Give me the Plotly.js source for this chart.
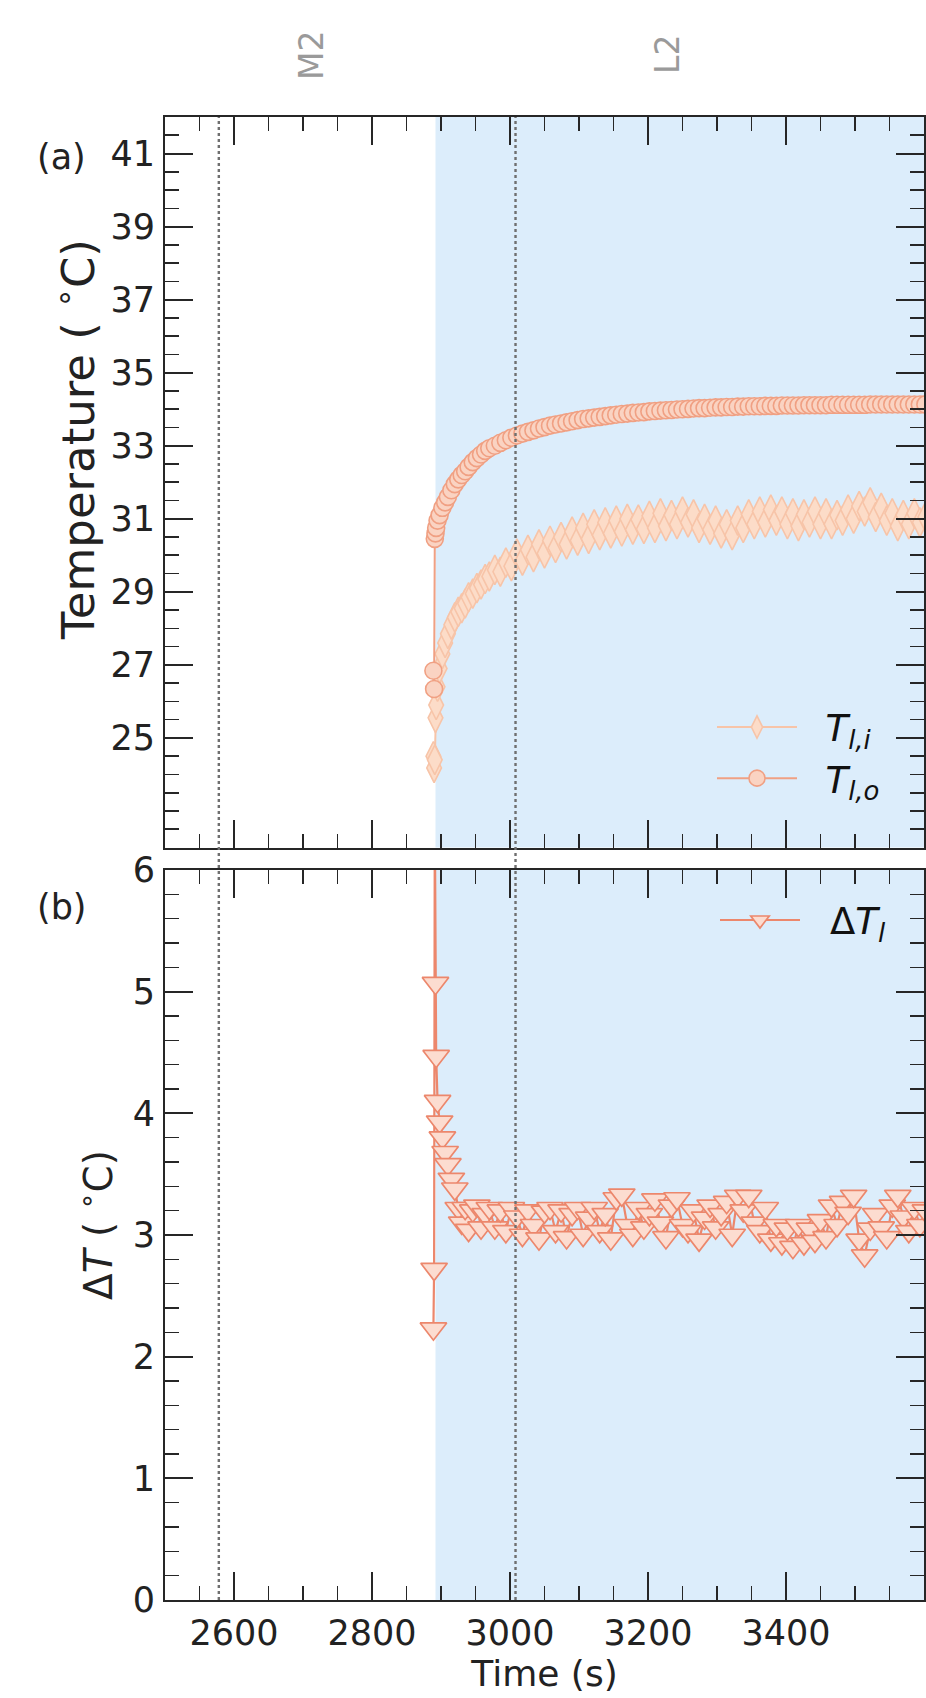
<!DOCTYPE html>
<html><head><meta charset="utf-8">
<script src="https://cdn.plot.ly/plotly-3.0.1.min.js"></script>
<style>html,body{margin:0;padding:0;background:#fff}</style>
</head><body><div id="chart" style="width:926px;height:1698px"></div>
<script>
// ---- data ----
const time = [2889, 2890, 2891, 2892, 2893, 2895, 2898, 2902, 2906, 2910,
  2915, 2920, 2925, 2930, 2935, 2940, 2946, 2952, 2958, 2964,
  2970, 2978, 2986, 2994, 3002, 3010, 3018, 3026, 3034, 3042,
  3050, 3058, 3066, 3074, 3082, 3090, 3098, 3106, 3114, 3122,
  3130, 3138, 3146, 3154, 3162, 3170, 3178, 3186, 3194, 3202,
  3210, 3218, 3226, 3234, 3242, 3250, 3258, 3266, 3274, 3282,
  3290, 3298, 3306, 3314, 3322, 3330, 3338, 3346, 3354, 3362,
  3370, 3378, 3386, 3394, 3402, 3410, 3418, 3426, 3434, 3442,
  3450, 3458, 3466, 3474, 3482, 3490, 3498, 3506, 3514, 3522,
  3530, 3538, 3546, 3554, 3562, 3570, 3578, 3586, 3594, 3602];
const T_li = [24.5, 24.18, 24.4, 25.55, 25.9, 26.4, 26.9, 27.3, 27.6, 27.85,
  28.1, 28.3, 28.45, 28.55, 28.68, 28.85, 28.95, 29.1, 29.2, 29.35,
  29.42, 29.6, 29.55, 29.8, 29.7, 30.05, 29.85, 30.15, 29.95, 30.3,
  30.05, 30.4, 30.2, 30.5, 30.3, 30.65, 30.4, 30.75, 30.45, 30.85,
  30.55, 30.9, 30.6, 30.95, 30.65, 31.0, 30.7, 30.98, 30.72, 31.08,
  30.75, 31.15, 30.8, 31.1, 30.85, 31.2, 30.9, 31.12, 30.75, 31.0,
  30.7, 30.95, 30.6, 30.85, 30.55, 30.95, 30.75, 31.12, 30.85, 31.2,
  30.9, 31.25, 30.95, 31.2, 30.85, 31.15, 30.8, 31.12, 30.9, 31.2,
  30.85, 31.15, 30.85, 31.1, 30.95, 31.25, 31.0, 31.35, 31.2, 31.45,
  31.05, 31.3, 30.95, 31.15, 30.8, 31.1, 30.85, 31.15, 30.9, 31.05];
const T_lo = [26.84, 26.34, 30.45, 30.6, 30.75, 30.95, 31.1, 31.3, 31.45, 31.6,
  31.78, 31.95, 32.08, 32.2, 32.3, 32.42, 32.55, 32.66, 32.76, 32.86,
  32.93, 33.0, 33.08, 33.15, 33.22, 33.28, 33.33, 33.38, 33.42, 33.47,
  33.51, 33.55, 33.58, 33.61, 33.64, 33.67, 33.7, 33.73, 33.75, 33.77,
  33.79, 33.81, 33.83, 33.85, 33.87, 33.88, 33.9, 33.91, 33.92, 33.94,
  33.95, 33.96, 33.97, 33.98, 33.99, 34.0, 34.01, 34.02, 34.03, 34.03,
  34.04, 34.05, 34.05, 34.06, 34.06, 34.07, 34.07, 34.08, 34.08, 34.08,
  34.09, 34.09, 34.09, 34.1, 34.1, 34.1, 34.1, 34.11, 34.11, 34.11,
  34.11, 34.11, 34.12, 34.12, 34.12, 34.12, 34.12, 34.12, 34.12, 34.13,
  34.13, 34.13, 34.13, 34.13, 34.13, 34.13, 34.13, 34.13, 34.13, 34.13];
const dT_l = [2.23, 2.72, 6.5, 5.07, 4.47, 4.1, 3.93, 3.8, 3.68, 3.58,
  3.46, 3.38, 3.22, 3.1, 3.22, 3.04, 3.2, 3.24, 3.06, 3.17,
  3.22, 3.06, 3.2, 3.03, 3.22, 3.15, 3.0, 3.2, 3.08, 2.97,
  3.19, 3.22, 3.03, 3.2, 2.98, 3.17, 3.22, 3.0, 3.14, 3.22,
  3.03, 3.17, 2.97, 3.3, 3.33, 3.08, 3.0, 3.22, 3.06, 3.17,
  3.29, 3.1, 2.98, 3.24, 3.3, 3.08, 3.03, 3.2, 2.96, 3.14,
  3.24, 3.06, 3.17, 3.27, 3.0, 3.32, 3.2, 3.32, 3.1, 3.03,
  3.22, 2.96, 3.08, 2.93, 3.05, 2.9, 3.08, 2.93, 3.05, 2.95,
  3.12, 2.98, 3.24, 3.08, 3.27, 3.18, 3.32, 2.96, 2.83, 3.05,
  3.17, 3.06, 2.98, 3.24, 3.32, 3.15, 3.03, 3.22, 3.08, 3.2];
const xTickVals = [2600, 2800, 3000, 3200, 3400];
const tempTickVals = [25, 27, 29, 31, 33, 35, 37, 39, 41];
const dTTickVals = [0, 1, 2, 3, 4, 5, 6];
const phaseNames = ['M2', 'L2'];
const phaseNameTimes = [2713, 3229];
const phaseBoundaryTimes = [2578, 3008];
const shadeRange = [2892, 3600];

// ---- layout helpers (pixels) ----
const W = 926, H = 1698, ML = 165, MR = 2, MT = 117, MB = 98;
const PW = W - ML - MR, PH = H - MT - MB;
const pxX = x => (x - ML) / PW;
const pxY = y => (H - MB - y) / PH;

const FONT = 'DejaVu Sans';
const INK = '#262626';
const cTi = '#f7c4a8', cTo = '#f0a083', cdT = '#ec876c';

function axis(extra) {
  return Object.assign({
    showline: true, linecolor: INK, linewidth: 2, mirror: 'allticks',
    ticks: 'inside', ticklen: 28, tickwidth: 2, tickcolor: INK,
    showgrid: false, zeroline: false,
    tickfont: {family: FONT, size: 35, color: '#222'},
    ticklabelstandoff: 1
  }, extra);
}

const xCommon = {
  range: [2500, 3600], tickmode: 'array', tickvals: xTickVals,
  minor: {ticks: 'inside', ticklen: 14, tickwidth: 1.6, tickcolor: INK, tick0: 2500, dtick: 50, showgrid: false}
};

const traces = [
  {x: time, y: T_li, xaxis: 'x2', yaxis: 'y2', legend: 'legend2', mode: 'lines+markers',
   name: '&nbsp;&nbsp;<i>T</i><sub><i>l,i</i></sub>',
   line: {color: cTi, width: 2},
   marker: {symbol: 'diamond-tall', size: 21, color: '#fcdcc8', line: {color: cTi, width: 1.6}}},
  {x: time, y: T_lo, xaxis: 'x2', yaxis: 'y2', legend: 'legend2', mode: 'lines+markers',
   name: '&nbsp;&nbsp;<i>T</i><sub><i>l,o</i></sub>',
   line: {color: cTo, width: 2},
   marker: {symbol: 'circle', size: 17, color: '#fad3c2', line: {color: cTo, width: 1.6}}},
  {x: time, y: dT_l, xaxis: 'x', yaxis: 'y', legend: 'legend', mode: 'lines+markers',
   name: 'Δ<i>T</i><sub><i>l</i></sub>',
   line: {color: cdT, width: 2.2},
   marker: {symbol: 'triangle-down', size: 23, color: '#fcdcd0', line: {color: cdT, width: 1.7}}}
];
// legend entry placement (pixels): marker centre; text starts 70 px right of it
const legendTargets = {'Δ': {x: 760, y: 922}};
const LEG_TEXT_GAP = 70;

const shapes = [];
['y domain', 'y2 domain'].forEach(yr => {
  shapes.push({type: 'rect', layer: 'below', xref: 'x', yref: yr,
    x0: shadeRange[0], x1: shadeRange[1], y0: 0, y1: 1,
    fillcolor: '#dcedfb', line: {width: 0}});
});
phaseBoundaryTimes.forEach(t => {
  shapes.push({type: 'line', layer: 'above', xref: 'x', yref: 'paper', x0: t, x1: t, y0: 0, y1: 1,
    line: {color: '#6f6f6f', width: 2.4, dash: 'dot'}});
});

const txt = (s, c) => ({family: FONT, size: s, color: c || '#222'});
const annotations = [
  {text: '(a)', xref: 'paper', yref: 'paper', x: pxX(62), y: pxY(157), xanchor: 'center', yanchor: 'middle',
   showarrow: false, font: txt(35)},
  {text: '(b)', xref: 'paper', yref: 'paper', x: pxX(62), y: pxY(907), xanchor: 'center', yanchor: 'middle',
   showarrow: false, font: txt(35)},
  {text: 'Temperature ( <sup>∘</sup>C)', xref: 'paper', yref: 'paper', x: pxX(76), y: pxY(440),
   xanchor: 'center', yanchor: 'middle', textangle: -90, showarrow: false, font: txt(45)},
  {text: 'Δ<i>T</i> ( <sup>∘</sup>C)', xref: 'paper', yref: 'paper', x: pxX(96), y: pxY(1225),
   xanchor: 'center', yanchor: 'middle', textangle: -90, showarrow: false, font: txt(39)}
];
phaseNames.forEach((n, i) => {
  annotations.push({text: n, xref: 'x', yref: 'paper', x: phaseNameTimes[i], y: pxY(55),
    xanchor: 'center', yanchor: 'middle',
    showarrow: false, textangle: -90, font: txt(33, '#9a9a9a')});
});

const layout = {
  width: W, height: H,
  margin: {l: ML, r: MR, t: MT, b: MB},
  paper_bgcolor: '#ffffff', plot_bgcolor: 'rgba(0,0,0,0)',
  font: {family: FONT, size: 35, color: '#222'},
  showlegend: true,
  xaxis: axis(Object.assign({anchor: 'y', domain: [0, 1],
    title: {text: 'Time (s)', font: txt(36), standoff: 6}}, xCommon)),
  xaxis2: axis(Object.assign({anchor: 'y2', domain: [0, 1], matches: 'x', showticklabels: false}, xCommon)),
  yaxis: axis({anchor: 'x', domain: [0, pxY(870)], range: [0, 6], tickmode: 'array', tickvals: dTTickVals,
    minor: {ticks: 'inside', ticklen: 14, tickwidth: 1.6, tickcolor: INK, tick0: 0, dtick: 0.2, showgrid: false}}),
  yaxis2: axis({anchor: 'x2', domain: [pxY(847.5), 1], range: [22, 42], tickmode: 'array', tickvals: tempTickVals,
    minor: {ticks: 'inside', ticklen: 14, tickwidth: 1.6, tickcolor: INK, tick0: 22, dtick: 0.5, showgrid: false}}),
  legend: {x: pxX(712), y: pxY(922), xanchor: 'left', yanchor: 'middle', bgcolor: 'rgba(0,0,0,0)',
    font: {family: FONT, size: 37, color: '#111'}, itemwidth: 80},
  legend2: {x: pxX(712), y: pxY(753), xanchor: 'left', yanchor: 'middle', bgcolor: 'rgba(0,0,0,0)',
    font: {family: FONT, size: 37, color: '#111'}, itemwidth: 80},
  shapes: shapes,
  annotations: annotations
};

const gd = document.getElementById('chart');
function setAttr(el, name, val) {
  if (el.getAttribute(name) !== String(val)) el.setAttribute(name, val);
}
// restyle the ΔT legend entry: long line with the marker in its middle, text after a gap (idempotent)
function fixLegends() {
  gd.querySelectorAll('.scrollbox').forEach(sb => { if (sb.hasAttribute('clip-path')) sb.removeAttribute('clip-path'); });
  gd.querySelectorAll('g.traces').forEach(item => {
    const label = item.querySelector('text.legendtext');
    if (!label) return;
    const s = label.textContent || '';
    const key = s.indexOf('Δ') >= 0 ? 'Δ' : null;
    if (!key) return;
    const tg = legendTargets[key];
    const line = item.querySelector('path.js-line');
    const pts = item.querySelectorAll('.legendpoints path.scatterpts');
    pts.forEach(p => setAttr(p, 'transform', 'translate(40,0)'));
    if (line) setAttr(line, 'd', 'M0,0h80');
    const tx = 40 + LEG_TEXT_GAP;
    if (label.hasAttribute('transform')) label.removeAttribute('transform');
    setAttr(label, 'x', tx);
    setAttr(label, 'text-anchor', 'start');
    label.querySelectorAll('tspan[x]').forEach(t => setAttr(t, 'x', tx));
    const ref = pts[0] || line;
    if (ref) {
      const r = ref.getBoundingClientRect();
      const dx = tg.x - (r.left + r.width / 2), dy = tg.y - (r.top + r.height / 2);
      if (Math.abs(dx) > 0.5 || Math.abs(dy) > 0.5) {
        item.setAttribute('transform', (item.getAttribute('transform') || '') + ' translate(' + dx + ',' + dy + ')');
      }
    }
  });
}
let fixing = false;
const observer = new MutationObserver(() => {
  if (fixing) return;
  fixing = true;
  try { fixLegends(); } finally { fixing = false; }
});
observer.observe(gd, {subtree: true, childList: true, attributes: true});
Plotly.newPlot(gd, traces, layout, {staticPlot: true, displayModeBar: false}).then(() => {
  fixLegends();
  if (gd.on) gd.on('plotly_afterplot', fixLegends);
  setTimeout(fixLegends, 30);
});
</script>
</body></html>
